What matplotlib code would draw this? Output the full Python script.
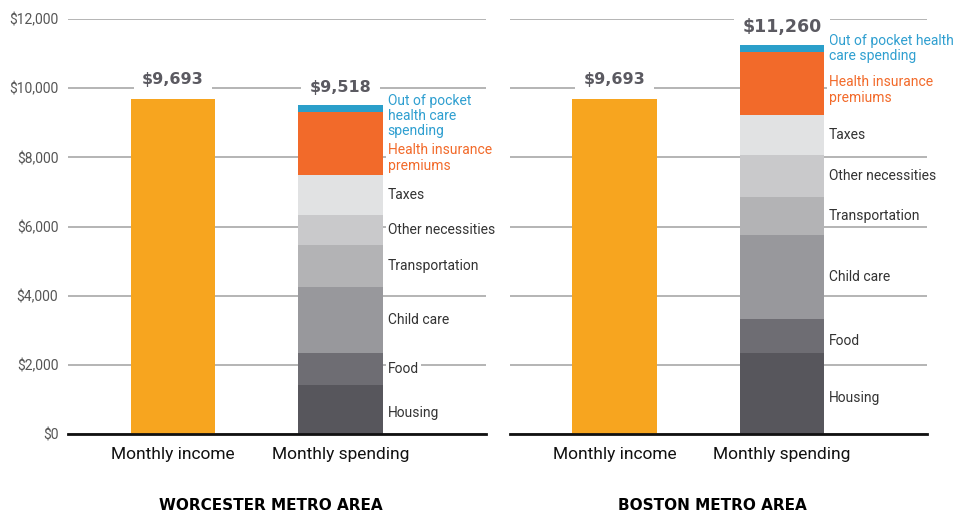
import numpy as np
import matplotlib.pyplot as plt

plt.rcParams['font.family'] = ['Roboto', 'DejaVu Sans']

# data
columns = ['Monthly income', 'Monthly spending']
areas = ['WORCESTER METRO AREA', 'BOSTON METRO AREA']
income = [9693, 9693]
spend_total = [9518, 11260]
categories = ['Housing', 'Food', 'Child care', 'Transportation', 'Other necessities',
              'Taxes', 'Health insurance\npremiums', 'Out of pocket\nhealth care\nspending']
categories_boston = ['Housing', 'Food', 'Child care', 'Transportation', 'Other necessities',
                     'Taxes', 'Health insurance\npremiums', 'Out of pocket health\ncare spending']
worcester = [1420, 915, 1925, 1205, 870, 1155, 1830, 198]
boston = [2335, 990, 2430, 1110, 1205, 1155, 1832, 203]

seg_colors = ['#57565c', '#6e6d73', '#98989c', '#b3b3b5', '#c9c9cb', '#e1e2e3', '#f26a2a', '#2b9fca']
label_colors = ['#333333'] * 6 + ['#f26a2a', '#2f9fd0']
income_color = '#f7a51f'
value_color = '#5b5a61'

# vertical nudges of labels (data units) for the crowded top segments
nudges = [[-110, 0, 0, 0, 0, 0, -420, -220], [-120, -150, 0, 0, 0, 0, -190, -20]]

fig = plt.figure(figsize=(9.6, 5.13), dpi=100)
W, H = 960, 513
axes_px = [(68, 486), (510, 927)]
top_px, bot_px = 19, 434

bw = 0.503
for k in range(2):
    x0, x1 = axes_px[k]
    ax = fig.add_axes([x0 / W, 1 - bot_px / H, (x1 - x0) / W, (bot_px - top_px) / H])
    ax.set_xlim(-0.625, 1.868)
    ax.set_ylim(0, 12000)
    ax.set_yticks(np.arange(0, 12001, 2000))
    ax.grid(axis='y', color='#a0a0a0', lw=1.1, zorder=0)
    ax.set_axisbelow(True)
    for s in ['top', 'right', 'left']:
        ax.spines[s].set_visible(False)
    ax.spines['bottom'].set_color('#111111')
    ax.spines['bottom'].set_linewidth(2)
    ax.spines['bottom'].set_zorder(5)
    ax.tick_params(length=0)
    if k == 0:
        ax.set_yticklabels(['${:,}'.format(v) for v in range(0, 12001, 2000)],
                           color='#555555', fontsize=10)
        ax.tick_params(axis='y', pad=7)
    else:
        ax.set_yticklabels([])
    ax.set_xticks([0, 1])
    ax.set_xticklabels(columns, fontsize=12.5, color='#111111')
    ax.tick_params(axis='x', pad=9)

    ax.bar(0, income[k], width=bw, color=income_color, zorder=2)
    vals = worcester if k == 0 else boston
    labs = categories if k == 0 else categories_boston
    bottom = 0
    for i, v in enumerate(vals):
        ax.bar(1, v, width=bw, bottom=bottom, color=seg_colors[i], zorder=2)
        ax.text(1 + bw / 2 + 0.03, bottom + v / 2 + nudges[k][i], labs[i],
                ha='left', va='center', fontsize=10, color=label_colors[i],
                linespacing=1.12, zorder=3,
                bbox=dict(facecolor='white', edgecolor='none', pad=1.5))
        bottom += v

    fs = 11.5 if k == 0 else 12.5
    ax.text(0, income[k] + 560, '${:,}'.format(income[k]), ha='center', va='center',
            fontsize=11.5, fontweight='bold', color=value_color, zorder=3,
            family='DejaVu Sans',
            bbox=dict(facecolor='white', edgecolor='none', pad=6))
    ax.text(1, spend_total[k] + 500, '${:,}'.format(spend_total[k]), ha='center', va='center',
            fontsize=fs, fontweight='bold', color=value_color, zorder=3,
            family='DejaVu Sans',
            bbox=dict(facecolor='white', edgecolor='none', pad=6))

    fig.text(((x0 + x1) / 2 - 6) / W, 1 - 505 / H, areas[k], ha='center', va='center',
             fontsize=11, fontweight='bold', color='#000000', family='DejaVu Sans')

fig.savefig('out.png', dpi=100)
